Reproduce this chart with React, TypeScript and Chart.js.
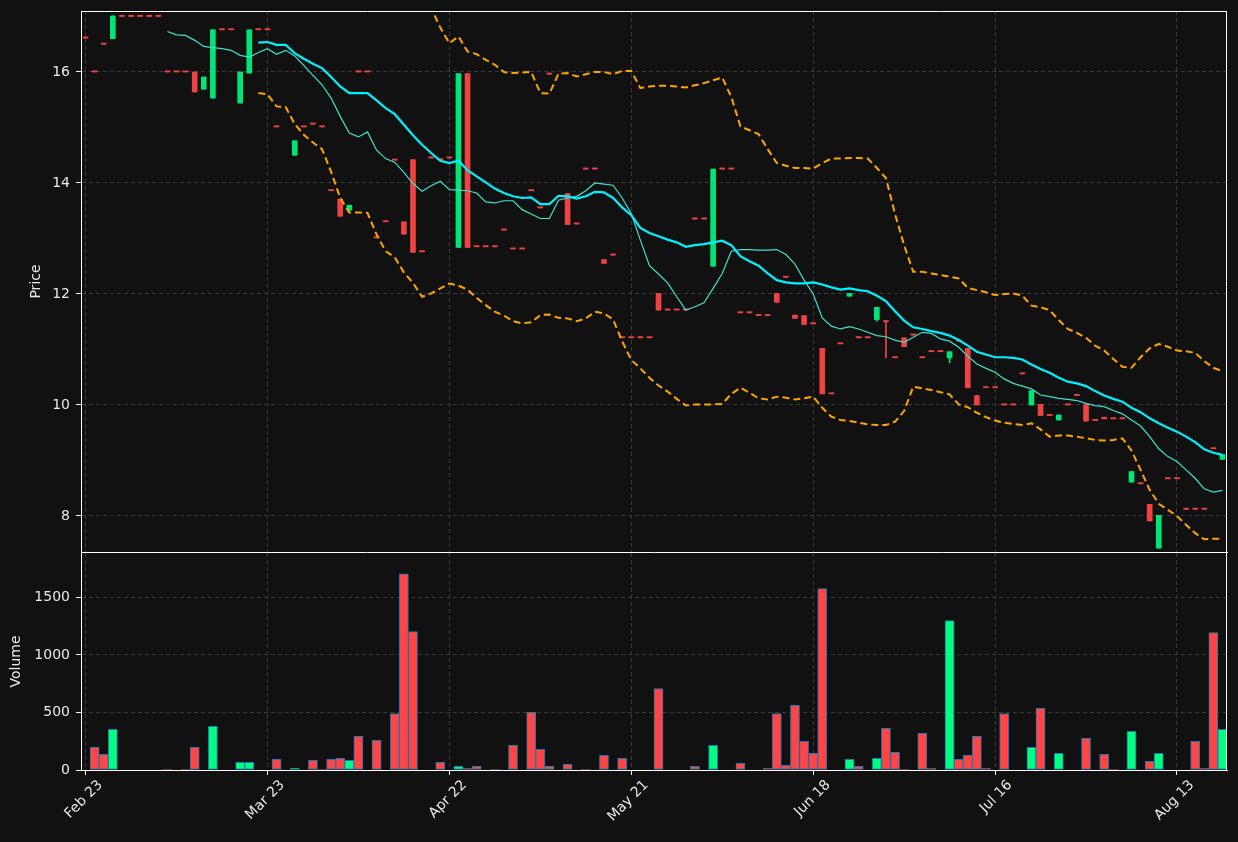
import React, { useEffect, useRef } from "react";
import { Chart, registerables } from "chart.js";

Chart.register(...registerables);

// ---------- data ----------
const tickLabels = ["Feb 23", "Mar 23", "Apr 22", "May 21", "Jun 18", "Jul 16", "Aug 13"];
const priceTicks = [8, 10, 12, 14, 16];
const volumeTicks = [0, 500, 1000, 1500];

const opens = [
  16.61, 16.0, 16.5, 16.6, 17.0, 17.0, 17.0, 17.0, 17.0, 16.0,
  16.0, 16.0, 16.0, 15.69, 15.53, 16.76, 16.76, 15.44, 15.98, 16.76,
  16.76, 15.01, null, 14.5, 15.01, 15.06, 15.01, 13.86, 13.71, 13.51,
  16.0, 16.0, 13.01, 13.3, 14.41, 13.3, 14.42, 12.76, 14.45, 14.42,
  14.45, 12.84, 15.97, 12.85, 12.85, 12.85, 13.15, 12.81, 12.81, 13.86,
  13.55, 15.96, null, 13.81, 13.26, 14.25, 14.25, 12.62, 12.7, 11.21,
  11.21, 11.21, 11.21, 12.01, 11.71, 11.71, 11.71, 13.35, 13.35, 12.5,
  14.25, 14.25, 11.66, 11.66, 11.61, 11.61, 12.01, 12.3, 11.62, 11.61,
  11.46, 11.02, 10.2, 11.1, 11.96, 11.21, 11.21, 11.54, 11.51, 10.85,
  11.21, 11.26, 10.85, 10.96, 10.96, 10.85, 11.15, 11.02, 10.17, 10.31,
  10.31, 10.0, 10.0, 10.56, 10.0, 10.01, 9.81, 9.73, 10.0, 10.17,
  10.01, 9.72, 9.78, 9.75, 9.75, 8.61, 8.58, 8.21, 7.42, 8.67,
  8.67, 8.12, 8.12, 8.12, 9.21, 9.02,
];
const closes = [
  16.61, 16.0, 16.5, 17.01, 17.0, 17.0, 17.0, 17.0, 17.0, 16.0,
  16.0, 16.0, 15.64, 15.91, 16.76, 16.76, 16.76, 16.0, 16.76, 16.76,
  16.76, 15.01, null, 14.76, 15.01, 15.06, 15.01, 13.86, 13.4, 13.6,
  16.0, 16.0, 13.01, 13.3, 14.41, 13.08, 12.75, 12.76, 14.45, 14.42,
  14.45, 15.97, 12.84, 12.85, 12.85, 12.85, 13.15, 12.81, 12.81, 13.86,
  13.55, 15.96, null, 13.25, 13.26, 14.25, 14.25, 12.55, 12.7, 11.21,
  11.21, 11.21, 11.21, 11.71, 11.71, 11.71, 11.71, 13.35, 13.35, 14.25,
  14.25, 14.25, 11.66, 11.66, 11.61, 11.61, 11.85, 12.3, 11.56, 11.45,
  11.46, 10.2, 10.2, 11.1, 12.01, 11.21, 11.21, 11.76, 11.5, 10.85,
  11.05, 11.26, 10.85, 10.96, 10.96, 10.96, 11.15, 10.31, 10.0, 10.31,
  10.31, 10.0, 10.0, 10.56, 10.26, 9.81, 9.81, 9.82, 10.0, 10.17,
  9.71, 9.72, 9.75, 9.75, 9.75, 8.8, 8.58, 7.91, 8.01, 8.67,
  8.67, 8.12, 8.12, 8.12, 9.21, 9.11,
];
const highs = [
  16.61, 16.0, 16.5, 17.01, 17.0, 17.0, 17.0, 17.0, 17.0, 16.0,
  16.0, 16.0, 16.0, 15.91, 16.76, 16.76, 16.76, 16.0, 16.76, 16.76,
  16.76, 15.01, null, 14.76, 15.01, 15.06, 15.01, 13.86, 13.71, 13.6,
  16.0, 16.0, 13.01, 13.3, 14.41, 13.3, 14.42, 12.76, 14.45, 14.42,
  14.45, 15.97, 15.97, 12.85, 12.85, 12.85, 13.15, 12.81, 12.81, 13.86,
  13.55, 15.96, null, 13.81, 13.26, 14.25, 14.25, 12.62, 12.7, 11.21,
  11.21, 11.21, 11.21, 12.01, 11.71, 11.71, 11.71, 13.35, 13.35, 14.25,
  14.25, 14.25, 11.66, 11.66, 11.61, 11.61, 12.01, 12.3, 11.62, 11.61,
  11.46, 11.02, 10.2, 11.1, 12.01, 11.21, 11.21, 11.76, 11.51, 10.85,
  11.21, 11.26, 10.85, 10.96, 10.96, 10.96, 11.15, 11.02, 10.17, 10.31,
  10.31, 10.0, 10.0, 10.56, 10.26, 10.01, 9.81, 9.82, 10.0, 10.17,
  10.01, 9.72, 9.78, 9.75, 9.75, 8.8, 8.58, 8.21, 8.01, 8.67,
  8.67, 8.12, 8.12, 8.12, 9.21, 9.11,
];
const lows = [
  16.61, 16.0, 16.5, 16.6, 17.0, 17.0, 17.0, 17.0, 17.0, 16.0,
  16.0, 16.0, 15.64, 15.69, 15.53, 16.76, 16.76, 15.44, 15.98, 16.76,
  16.76, 15.01, null, 14.5, 15.01, 15.06, 15.01, 13.86, 13.4, 13.51,
  16.0, 16.0, 13.01, 13.3, 14.41, 13.07, 12.75, 12.76, 14.45, 14.42,
  14.45, 12.84, 12.84, 12.85, 12.85, 12.85, 13.15, 12.81, 12.81, 13.86,
  13.55, 15.96, null, 13.25, 13.26, 14.25, 14.25, 12.55, 12.7, 11.21,
  11.21, 11.21, 11.21, 11.71, 11.71, 11.71, 11.71, 13.35, 13.35, 12.5,
  14.25, 14.25, 11.66, 11.66, 11.61, 11.61, 11.85, 12.3, 11.56, 11.45,
  11.46, 10.2, 10.2, 11.1, 11.96, 11.21, 11.21, 11.51, 10.85, 10.85,
  11.05, 11.26, 10.85, 10.96, 10.96, 10.76, 11.15, 10.31, 10.0, 10.31,
  10.31, 10.0, 10.0, 10.56, 10.0, 9.81, 9.81, 9.73, 10.0, 10.17,
  9.71, 9.72, 9.75, 9.75, 9.75, 8.61, 8.58, 7.91, 7.42, 8.67,
  8.67, 8.12, 8.12, 8.12, 9.21, 9.02,
];
const volumes = [
  0, 196, 136, 353, 0, 0, 0, 0, 0, 5,
  0, 5, 196, 0, 379, 0, 0, 66, 66, 0,
  0, 92, 0, 14, 0, 84, 5, 92, 101, 84,
  292, 0, 257, 0, 491, 1705, 1202, 0, 0, 66,
  0, 32, 14, 32, 0, 5, 0, 214, 0, 500,
  179, 32, 0, 49, 0, 5, 0, 127, 0, 101,
  0, 0, 0, 708, 0, 0, 0, 32, 0, 214,
  0, 0, 58, 0, 0, 14, 491, 40, 561, 249,
  145, 1575, 0, 0, 92, 32, 0, 101, 361, 153,
  5, 0, 318, 14, 0, 1298, 92, 127, 292, 14,
  0, 491, 0, 0, 196, 535, 0, 145, 0, 0,
  275, 0, 136, 5, 0, 335, 0, 75, 145, 0,
  0, 0, 249, 14, 1194, 353,
];
const ma10 = [
  null, null, null, null, null, null, null, null, null, 16.73,
  16.67, 16.66, 16.57, 16.46, 16.44, 16.42, 16.39, 16.3, 16.27, 16.35,
  16.42, 16.32, 16.39, 16.29, 16.12, 15.94, 15.77, 15.53, 15.2, 14.9,
  14.83, 14.92, 14.59, 14.44, 14.37, 14.19, 13.99, 13.85, 13.95, 14.03,
  13.88, 13.87, 13.86, 13.82, 13.66, 13.64, 13.68, 13.68, 13.52, 13.44,
  13.36, 13.36, 13.69, 13.73, 13.76, 13.86, 14.0, 13.98, 13.96, 13.73,
  13.45, 12.97, 12.51, 12.36, 12.2, 11.95, 11.71, 11.77, 11.84, 12.1,
  12.37, 12.77, 12.8, 12.8, 12.79, 12.79, 12.8, 12.71, 12.54, 12.25,
  12.0, 11.57, 11.42, 11.37, 11.41, 11.37, 11.31, 11.25, 11.23, 11.17,
  11.13, 11.22, 11.31, 11.29, 11.19, 11.15, 11.04, 10.88, 10.74, 10.66,
  10.59, 10.47, 10.39, 10.34, 10.29, 10.18, 10.15, 10.12, 10.1, 10.08,
  10.03, 9.99, 9.97, 9.9, 9.84, 9.73, 9.62, 9.43, 9.21, 9.07,
  8.98, 8.83, 8.68, 8.49, 8.43, 8.46,
];
const ma20 = [
  null, null, null, null, null, null, null, null, null, null,
  null, null, null, null, null, null, null, null, null, 16.53,
  16.54, 16.49, 16.49, 16.34, 16.24, 16.15, 16.07, 15.91, 15.74, 15.62,
  15.62, 15.62, 15.49, 15.35, 15.24, 15.05, 14.86, 14.69, 14.54, 14.4,
  14.36, 14.4, 14.23, 14.12, 14.01, 13.9, 13.82, 13.76, 13.73, 13.74,
  13.62, 13.62, 13.77, 13.76, 13.72, 13.76, 13.84, 13.83, 13.73, 13.56,
  13.42, 13.19, 13.1, 13.04, 12.98, 12.93, 12.85, 12.88, 12.9, 12.93,
  12.96, 12.88, 12.68, 12.59, 12.51, 12.37, 12.25, 12.21, 12.19, 12.19,
  12.21, 12.17, 12.12, 12.08, 12.1, 12.07, 12.05, 11.97, 11.87, 11.69,
  11.52, 11.4, 11.37, 11.33, 11.3, 11.25, 11.17, 11.07, 10.96, 10.91,
  10.86, 10.86, 10.85, 10.82, 10.73, 10.65, 10.58, 10.49, 10.42, 10.39,
  10.34, 10.25, 10.17, 10.11, 10.06, 9.95, 9.87, 9.76, 9.67, 9.59,
  9.52, 9.43, 9.33, 9.2, 9.14, 9.1,
];
const bandUpper = [
  null, null, null, null, null, null, null, null, null, null,
  null, null, null, null, null, null, null, null, null, 17.44,
  17.48, 17.6, 17.61, 17.62, 17.61, 17.57, 17.53, 17.62, 17.75, 17.77,
  17.77, 17.78, 17.91, 17.93, 17.82, 17.71, 17.52, 17.43, 17.15, 16.8,
  16.52, 16.64, 16.37, 16.32, 16.22, 16.13, 16.0, 15.98, 15.99, 16.0,
  15.62, 15.61, 15.97, 15.98, 15.92, 15.96, 16.0, 16.0, 15.96, 16.02,
  16.02, 15.71, 15.74, 15.75, 15.75, 15.74, 15.72, 15.76, 15.8, 15.85,
  15.9, 15.55, 15.02, 14.95, 14.88, 14.61, 14.36, 14.31, 14.27, 14.27,
  14.26, 14.36, 14.44, 14.44, 14.45, 14.45, 14.44, 14.27, 14.09, 13.44,
  12.88, 12.4, 12.4, 12.37, 12.34, 12.31, 12.28, 12.11, 12.07, 12.03,
  11.98, 12.0, 12.01, 11.97, 11.79, 11.76, 11.71, 11.53, 11.37, 11.3,
  11.21, 11.07, 10.98, 10.83, 10.69, 10.67, 10.86, 11.02, 11.1, 11.05,
  10.98, 10.97, 10.94, 10.79, 10.67, 10.61,
];
const bandLower = [
  null, null, null, null, null, null, null, null, null, null,
  null, null, null, null, null, null, null, null, null, 15.62,
  15.6, 15.38, 15.37, 15.06, 14.87, 14.73, 14.61, 14.2, 13.73, 13.47,
  13.47, 13.46, 13.07, 12.77, 12.66, 12.39, 12.2, 11.95, 12.01, 12.1,
  12.19, 12.15, 12.08, 11.93, 11.8, 11.68, 11.61, 11.51, 11.47, 11.49,
  11.62, 11.63, 11.57, 11.56, 11.51, 11.56, 11.68, 11.65, 11.54, 11.15,
  10.81, 10.66, 10.49, 10.35, 10.24, 10.11, 9.99, 10.01, 10.01, 10.01,
  10.02, 10.2, 10.31, 10.22, 10.12, 10.1, 10.15, 10.13, 10.1, 10.12,
  10.15, 9.95, 9.79, 9.73, 9.71, 9.68, 9.65, 9.64, 9.64, 9.7,
  9.89, 10.33, 10.3, 10.27, 10.23, 10.19, 10.01, 9.96, 9.86, 9.78,
  9.72, 9.68, 9.66, 9.64, 9.67, 9.56, 9.43, 9.45, 9.45, 9.43,
  9.4, 9.37, 9.36, 9.37, 9.4, 9.18, 8.83, 8.47, 8.22, 8.11,
  8.0, 7.84, 7.69, 7.58, 7.59, 7.59,
];

// ---------- styles ----------
const BG = "#111111";
const TEXT = "#e8e8e8";
const GRID = "#3a3a3a";
const GRID_DASH = [4, 3];
const UP = "#00e676";
const DOWN = "#ef4343";
const VOL_UP = "#00ff80";
const VOL_DOWN = "#ff4545";
const VOL_EDGE = "#1f77b4";
const FONT = "'DejaVu Sans', 'Liberation Sans', sans-serif";

const framePlugin = {
  id: "frame",
  afterDatasetsDraw(chart: any, _args: any, opts: any) {
    const { ctx, chartArea: a } = chart;
    ctx.save();
    ctx.strokeStyle = "#ffffff";
    ctx.lineWidth = 1;
    ctx.beginPath();
    if (opts && opts.top) {
      ctx.moveTo(a.left, Math.round(a.top) + 0.5);
      ctx.lineTo(a.right, Math.round(a.top) + 0.5);
    }
    ctx.moveTo(Math.round(a.right) - 0.5, a.top);
    ctx.lineTo(Math.round(a.right) - 0.5, a.bottom);
    ctx.stroke();
    ctx.restore();
  },
};

const fixWidth = (s: any) => {
  s.width = 81;
  s.paddingTop = 0;
  s.paddingBottom = 0;
};

export default function App() {
  const priceRef = useRef<HTMLCanvasElement>(null);
  const volRef = useRef<HTMLCanvasElement>(null);

  useEffect(() => {
    document.body.style.margin = "0";
    document.body.style.background = BG;
    Chart.defaults.font.family = FONT;

    const labels = opens.map((_, i) => String(i));
    const up = opens.map((o, i) => o != null && closes[i] != null && (closes[i] as number) > (o as number));
    const candleColors = up.map((u) => (u ? UP : DOWN));
    const volColors = up.map((u) => (u ? VOL_UP : VOL_DOWN));
    const bodies = opens.map((o, i) => (o == null ? null : [o, closes[i]]));
    const wicks = lows.map((l, i) => (l == null ? null : [l, highs[i]]));

    const xCommon = {
      type: "category" as const,
      offset: true,
      afterBuildTicks: (s: any) => {
        s.ticks = s.ticks.filter((t: any) => t.value % 20 === 0);
      },
    };

    const lineDs = (data: any[], color: string, width: number, dash: number[], order: number) => ({
      type: "line" as const,
      data,
      borderColor: color,
      borderWidth: width,
      borderDash: dash,
      pointRadius: 0,
      tension: 0,
      fill: false,
      order,
    });

    const priceChart = new Chart(priceRef.current as HTMLCanvasElement, {
      type: "bar",
      data: {
        labels,
        datasets: [
          lineDs(bandUpper, "#ffa500", 2, [7, 4], 3),
          lineDs(bandLower, "#ffa500", 2, [7, 4], 3),
          lineDs(ma10, "#40e0d0", 1.2, [], 2),
          lineDs(ma20, "#00f2ff", 2.2, [], 1),
          {
            type: "bar" as const,
            data: bodies as any,
            backgroundColor: candleColors,
            barThickness: 5,
            minBarLength: 1.2,
            grouped: false,
            order: 10,
          },
          {
            type: "bar" as const,
            data: wicks as any,
            backgroundColor: candleColors,
            barThickness: 1,
            grouped: false,
            order: 11,
          },
        ],
      },
      options: {
        responsive: false,
        animation: false,
        devicePixelRatio: 1,
        layout: { padding: { left: 0, right: 11, top: 11, bottom: 0 } },
        plugins: { legend: { display: false }, tooltip: { enabled: false }, frame: { top: true } } as any,
        scales: {
          x: {
            ...xCommon,
            afterFit: (s: any) => {
              s.height = 1;
              s.paddingLeft = 0;
              s.paddingRight = 0;
            },
            ticks: { display: false, autoSkip: false },
            grid: { color: GRID, offset: false, drawTicks: false, lineWidth: 1 },
            border: { display: true, color: "#ffffff", width: 1, dash: GRID_DASH },
          },
          y: {
            type: "linear",
            min: 7.351,
            max: 17.099,
            afterFit: fixWidth,
            afterBuildTicks: (s: any) => {
              s.ticks = priceTicks.map((v) => ({ value: v }));
            },
            ticks: { color: TEXT, font: { size: 14 }, padding: 6, callback: (v: any) => String(v) },
            grid: { color: GRID, lineWidth: 1, tickColor: "#ffffff", tickLength: 5, drawTicks: true },
            border: { display: true, color: "#ffffff", width: 1, dash: GRID_DASH },
            title: { display: true, text: "Price", color: TEXT, font: { size: 14 }, padding: { top: 28, bottom: 0 } },
          },
        },
      },
      plugins: [framePlugin],
    } as any);

    const volChart = new Chart(volRef.current as HTMLCanvasElement, {
      type: "bar",
      data: {
        labels,
        datasets: [
          {
            data: volumes,
            backgroundColor: volColors,
            borderColor: VOL_EDGE,
            borderWidth: 1,
            borderSkipped: false,
            barPercentage: 1,
            categoryPercentage: 1,
          },
        ],
      },
      options: {
        responsive: false,
        animation: false,
        devicePixelRatio: 1,
        layout: { padding: { left: 0, right: 11, top: 5, bottom: 0 } },
        plugins: { legend: { display: false }, tooltip: { enabled: false }, frame: { top: false } } as any,
        scales: {
          x: {
            ...xCommon,
            afterFit: (s: any) => {
              s.height = 72;
              s.paddingLeft = 0;
              s.paddingRight = 0;
            },
            ticks: {
              autoSkip: false,
              minRotation: 45,
              maxRotation: 45,
              color: TEXT,
              font: { size: 14 },
              padding: 2,
              labelOffset: 15,
              callback: (v: any) => tickLabels[Number(v) / 20] ?? "",
            },
            grid: { color: GRID, offset: false, drawTicks: true, tickColor: "#ffffff", tickLength: 5, lineWidth: 1 },
            border: { display: true, color: "#ffffff", width: 1, dash: GRID_DASH },
          },
          y: {
            type: "linear",
            min: 0,
            max: 1885,
            afterFit: fixWidth,
            afterBuildTicks: (s: any) => {
              s.ticks = volumeTicks.map((v) => ({ value: v }));
            },
            ticks: { color: TEXT, font: { size: 14 }, padding: 6, callback: (v: any) => String(v) },
            grid: { color: GRID, lineWidth: 1, tickColor: "#ffffff", tickLength: 5, drawTicks: true },
            border: { display: true, color: "#ffffff", width: 1, dash: GRID_DASH },
            title: { display: true, text: "Volume", color: TEXT, font: { size: 14 }, padding: { top: 8, bottom: 0 } },
          },
        },
      },
      plugins: [framePlugin],
    } as any);

    return () => {
      priceChart.destroy();
      volChart.destroy();
    };
  }, []);

  return (
    <div
      style={{
        position: "absolute",
        left: 0,
        top: 0,
        width: 1238,
        height: 842,
        background: BG,
        overflow: "hidden",
      }}
    >
      <canvas
        ref={priceRef}
        width={1238}
        height={553}
        style={{ position: "absolute", left: 0, top: 0, width: 1238, height: 553 }}
      />
      <canvas
        ref={volRef}
        width={1238}
        height={294}
        style={{ position: "absolute", left: 0, top: 548, width: 1238, height: 294 }}
      />
    </div>
  );
}
